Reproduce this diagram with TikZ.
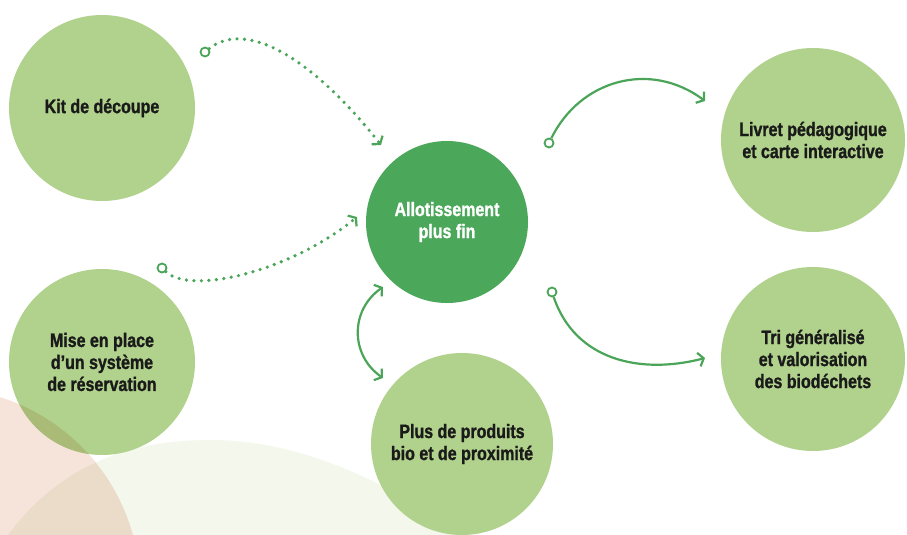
\documentclass[tikz,border=0pt]{standalone}
\usepackage{fontspec}
\setmainfont{Liberation Sans}[FakeStretch=0.82, BoldFeatures={FakeBold=1.2}]
\usetikzlibrary{arrows.meta}
\definecolor{lgreen}{HTML}{B1D28C}
\definecolor{dgreen}{HTML}{4BA75A}
\definecolor{lineg}{HTML}{4AA559}
\definecolor{pinkbg}{HTML}{F6E4DA}
\definecolor{palebg}{HTML}{F3F7EC}
\definecolor{txt}{HTML}{1A1A1A}
\begin{document}
\begin{tikzpicture}[x=1pt,y=-1pt,
  bubble/.style={circle, fill=lgreen, inner sep=0pt, minimum size=#1, align=center,
    font=\bfseries\fontsize{19.5}{22}\selectfont, text=txt},
  hub/.style={bubble=#1, fill=dgreen, text=white},
  marker/.style={circle, draw=lineg, line width=1.8pt, fill=white, inner sep=0pt, minimum size=9pt},
  link/.style={draw=lineg, line width=2.2pt, -{Straight Barb[length=5pt,width=14pt,line width=2.2pt]}},
  linkboth/.style={draw=lineg, line width=2.2pt, {Straight Barb[length=5pt,width=14pt,line width=2.2pt]}-{Straight Barb[length=5pt,width=14pt,line width=2.2pt]}},
  dotlink/.style={link, line cap=round, dash pattern=on 0pt off 7.5pt, line width=3.6pt}
]
\useasboundingbox (0,0) rectangle (907,535);
\fill[white] (0,0) rectangle (907,535);
% pale green wave
\fill[palebg] (8,535) .. controls (60,465) and (130,440) .. (210,440)
  .. controls (300,440) and (380,480) .. (455,528) -- (455,535) -- cycle;

% bubbles
\node[bubble=186pt] (kit) at (102,108) {Kit de découpe};
\node[bubble=186pt] (mise) at (102,362) {Mise en place\\d’un système\\de réservation};
\node[hub=162pt] (allot) at (447,222) {Allotissement\\plus fin};
\node[bubble=182pt] (bio) at (462,444) {Plus de produits\\bio et de proximité};
\node[bubble=184pt] (livret) at (813,140) {Livret pédagogique\\et carte interactive};
\node[bubble=184pt] (tri) at (813,359) {Tri généralisé\\et valorisation\\des biodéchets};

% pink background circle (multiplied over the rest)
\begin{scope}[blend mode=multiply]
\fill[pinkbg] (-60,588) circle[radius=200];
\end{scope}

% markers
\node[marker] (m1) at (205,52) {};
\node[marker] (m2) at (162,268) {};
\node[marker] (m3) at (549,143) {};
\node[marker] (m4) at (552,292) {};

% free ends
\coordinate (e1) at (381,145);
\coordinate (e2) at (357,217);
\coordinate (e3) at (705,101);
\coordinate (e4) at (705,358);
\coordinate (e5a) at (383,287);
\coordinate (e5b) at (383,378);

\draw[dotlink] (m1) .. controls (245,20) and (310,55) .. (e1);
\draw[dotlink] (m2) .. controls (190,295) and (290,272) .. (e2);
\draw[link] (m3) .. controls (580,80) and (650,60) .. (e3);
\draw[link] (m4) .. controls (575,360) and (640,375) .. (e4);
\draw[linkboth] (e5a) .. controls (350,310) and (350,355) .. (e5b);
\end{tikzpicture}
\end{document}
